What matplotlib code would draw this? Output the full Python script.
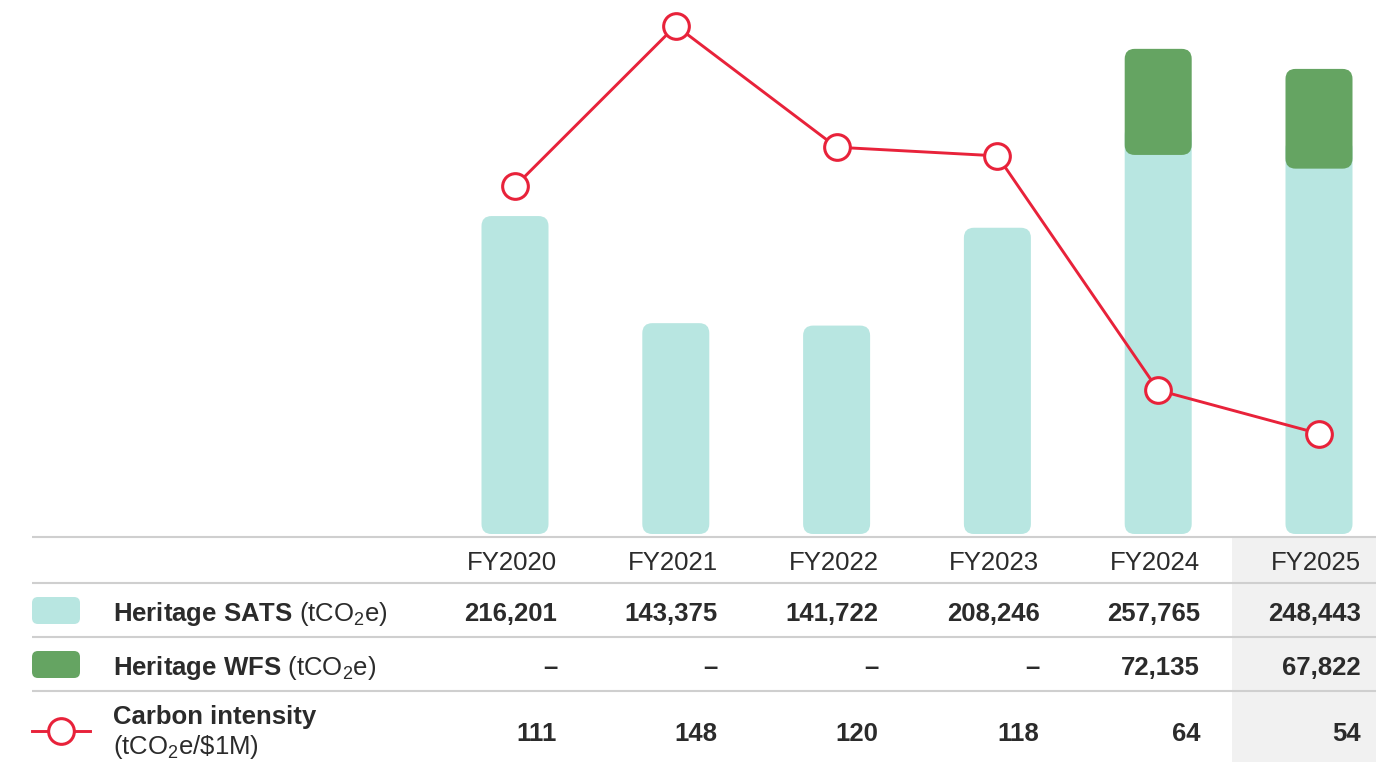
import numpy as np
import matplotlib.pyplot as plt
from matplotlib.patches import FancyBboxPatch, Rectangle
from matplotlib.transforms import blended_transform_factory

plt.rcParams['font.family'] = ['Liberation Sans', 'DejaVu Sans']
plt.rcParams['mathtext.fontset'] = 'custom'
plt.rcParams['mathtext.rm'] = 'Liberation Sans'
plt.rcParams['mathtext.bf'] = 'Liberation Sans:bold'
plt.rcParams['mathtext.it'] = 'Liberation Sans:italic'

# data
years = ["FY2020", "FY2021", "FY2022", "FY2023", "FY2024", "FY2025"]
sats = [216201, 143375, 141722, 208246, 257765, 248443]
wfs = [np.nan, np.nan, np.nan, np.nan, 72135, 67822]
intensity = [111, 148, 120, 118, 64, 54]

cyan = "#b8e6e1"
green = "#65a462"
red = "#e8223a"
txt = "#2b2b2b"
grid = "#cfcfcf"

W, H = 1376, 762
step = 160.8      # px between columns
x0 = 515          # px centre of first column
base = 534        # px of bar baseline from top
per_px = 680      # tCO2e per pixel

fig = plt.figure(figsize=(W / 100, H / 100), dpi=100)

# table layer, pixel coords
tab = fig.add_axes([0, 0, 1, 1])
tab.set_xlim(0, W)
tab.set_ylim(H, 0)
tab.axis('off')

# bar layer
ax = fig.add_axes([0, (H - base) / H, 1, base / H])
ax.axis('off')
ax.patch.set_visible(False)
ax.set_xlim(-x0 / step, (W - x0) / step)
ax.set_ylim(0, base * per_px)

x = np.arange(len(years))
bw = 67 / step
rx = 10 / step
ry = 10 * per_px


def round_bars(bars, color, extra=None):
    for j, b in enumerate(bars):
        h = b.get_height()
        if not np.isfinite(h) or h <= 0:
            b.remove()
            continue
        # let the lower bar run on under the stacked one so its corners stay hidden
        if extra is not None and extra[j]:
            h += 3 * ry
        p = FancyBboxPatch((b.get_x(), b.get_y()), b.get_width(), h,
                           boxstyle=f"round,pad=0,rounding_size={rx}",
                           mutation_aspect=ry / rx, fc=color, ec='none')
        b.remove()
        ax.add_patch(p)


stacked = [np.isfinite(v) for v in wfs]
round_bars(ax.bar(x, sats, width=bw), cyan, stacked)
round_bars(ax.bar(x, np.nan_to_num(wfs), width=bw, bottom=sats), green)

# line layer
ax2 = fig.add_axes([0, (H - base) / H, 1, base / H])
ax2.axis('off')
ax2.patch.set_visible(False)
ax2.set_xlim(ax.get_xlim())
k = 4.34
ax2.set_ylim((668 - base) / k, 668 / k)
ax2.plot(x, intensity, color=red, lw=2.1, marker='o', ms=18.5,
         mfc='white', mec=red, mew=2.2)

# table
tab.add_patch(Rectangle((1232, 537), W - 1232, H - 537, fc="#f1f1f1", ec='none', zorder=0))
tab.hlines([537, 583, 637, 691], 32, W, color=grid, lw=1.5, zorder=1)

tr = blended_transform_factory(ax.transData, tab.transData)
off = 42 / step
fs = 18.5
for i, yr in enumerate(years):
    tab.text(i + off, 570, yr, transform=tr, ha='right', va='baseline', fontsize=fs, color=txt)
    tab.text(i + off, 621, f"{sats[i]:,}", transform=tr, ha='right', va='baseline',
             fontsize=fs, color=txt, fontweight='bold')
    w = "–" if np.isnan(wfs[i]) else f"{int(wfs[i]):,}"
    tab.text(i + off, 675, w, transform=tr, ha='right', va='baseline',
             fontsize=fs, color=txt, fontweight='bold')
    tab.text(i + off, 741, f"{intensity[i]}", transform=tr, ha='right', va='baseline',
             fontsize=fs, color=txt, fontweight='bold')

# row labels and legend keys
tab.add_patch(FancyBboxPatch((32, 597), 48, 27, boxstyle="round,pad=0,rounding_size=6",
                             fc=cyan, ec='none'))
tab.add_patch(FancyBboxPatch((32, 651), 48, 27, boxstyle="round,pad=0,rounding_size=6",
                             fc=green, ec='none'))
tab.plot([32, 90], [731, 731], color=red, lw=2.1)
tab.plot([61], [731], marker='o', ms=18.5, mfc='white', mec=red, mew=2.2)

tab.text(113, 621, r"$\mathbf{Heritage}$ $\mathbf{SATS}$ (tCO$_2$e)", ha='left', va='baseline',
         fontsize=fs, color=txt)
tab.text(113, 675, r"$\mathbf{Heritage}$ $\mathbf{WFS}$ (tCO$_2$e)", ha='left', va='baseline',
         fontsize=fs, color=txt)
tab.text(113, 724, "Carbon intensity", ha='left', va='baseline', fontsize=fs,
         color=txt, fontweight='bold')
tab.text(113, 754, r"(tCO$_2$e/\$1M)", ha='left', va='baseline', fontsize=fs, color=txt)

fig.savefig("out.png", dpi=100)
